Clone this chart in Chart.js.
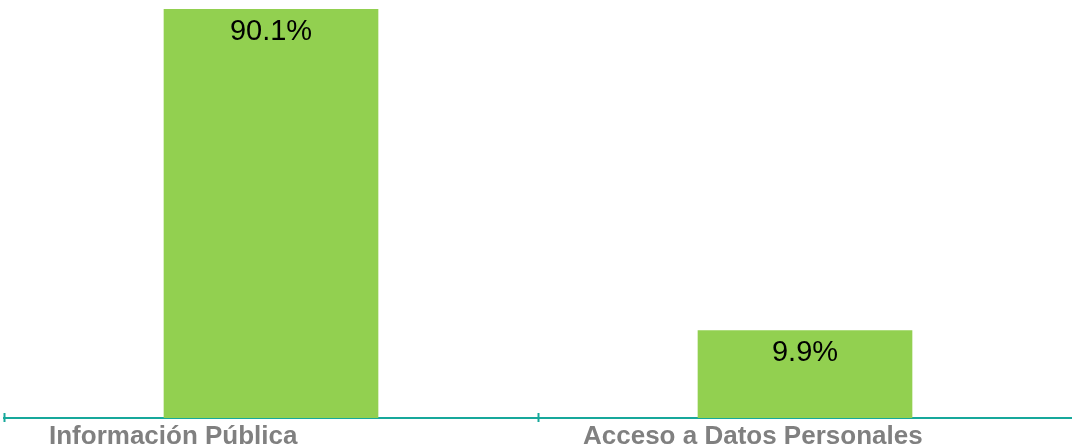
<!DOCTYPE html>
<html>
<head>
<meta charset="utf-8">
<script src="https://cdn.jsdelivr.net/npm/chart.js@4/dist/chart.umd.min.js"></script>
<style>
  html, body { margin: 0; padding: 0; background: #fff; }
  #wrap { width: 1072px; height: 445px; }
</style>
</head>
<body>
<div id="wrap"><canvas id="grafica"></canvas></div>
<script>
// categorias y porcentajes
const categorias = ['Información Pública', 'Acceso a Datos Personales'];
const porcentajes = [90.1, 9.9];
const etiquetas = ['90.1%', '9.9%'];
// el eje del original no empieza en cero
const ejeMin = -12;
const ejeMax = 92.35;

const verde = '#92D050';
const turquesa = '#17A89B';

// marcas cortas del eje x entre categorias (cruzan la linea)
const marcasEje = {
  id: 'marcasEje',
  afterDraw(chart) {
    const ctx = chart.ctx;
    const x = chart.scales.x;
    const y = chart.chartArea.bottom;
    const ancho = (x.getPixelForValue(1) - x.getPixelForValue(0));
    ctx.save();
    ctx.strokeStyle = turquesa;
    ctx.lineWidth = 2;
    for (let i = 0; i < categorias.length; i++) {
      const px = Math.round(x.getPixelForValue(i) - ancho / 2) + 0.5;
      ctx.beginPath();
      ctx.moveTo(px, y - 5);
      ctx.lineTo(px, y + 4);
      ctx.stroke();
    }
    ctx.restore();
  }
};

// texto del valor dentro de la barra, arriba
const valores = {
  id: 'valores',
  afterDatasetsDraw(chart) {
    const ctx = chart.ctx;
    const meta = chart.getDatasetMeta(0);
    ctx.save();
    ctx.font = '29px "Liberation Sans", Arial, sans-serif';
    ctx.fillStyle = '#000';
    ctx.textAlign = 'center';
    ctx.textBaseline = 'top';
    meta.data.forEach((bar, i) => {
      ctx.fillText(etiquetas[i], bar.x, bar.y + 8);
    });
    ctx.restore();
  }
};

const data = {
  labels: categorias,
  datasets: [{
    data: porcentajes,
    backgroundColor: verde,
    borderWidth: 0,
    base: ejeMin,
    barPercentage: 0.402,
    categoryPercentage: 1
  }]
};

const config = {
  type: 'bar',
  data: data,
  options: {
    responsive: true,
    maintainAspectRatio: false,
    animation: false,
    layout: { padding: { left: 4, right: 0, top: 0, bottom: 0 } },
    plugins: {
      legend: { display: false },
      tooltip: { enabled: false }
    },
    scales: {
      x: {
        grid: { display: false, drawTicks: false },
        border: { display: true, color: turquesa, width: 2 },
        ticks: {
          align: 'start',
          labelOffset: -222,
          padding: 6,
          color: '#808080',
          font: { family: '"Liberation Sans", Arial, sans-serif', size: 26, weight: 'bold', lineHeight: 1 }
        },
        afterFit(scale) {
          // las etiquetas se corren a la izquierda y quedan cortadas abajo
          scale.paddingLeft = 0;
          scale.paddingRight = 0;
          scale.height = 27;
        }
      },
      y: {
        display: false,
        min: ejeMin,
        max: ejeMax
      }
    }
  },
  plugins: [marcasEje, valores]
};

new Chart(document.getElementById('grafica'), config);
</script>
</body>
</html>
